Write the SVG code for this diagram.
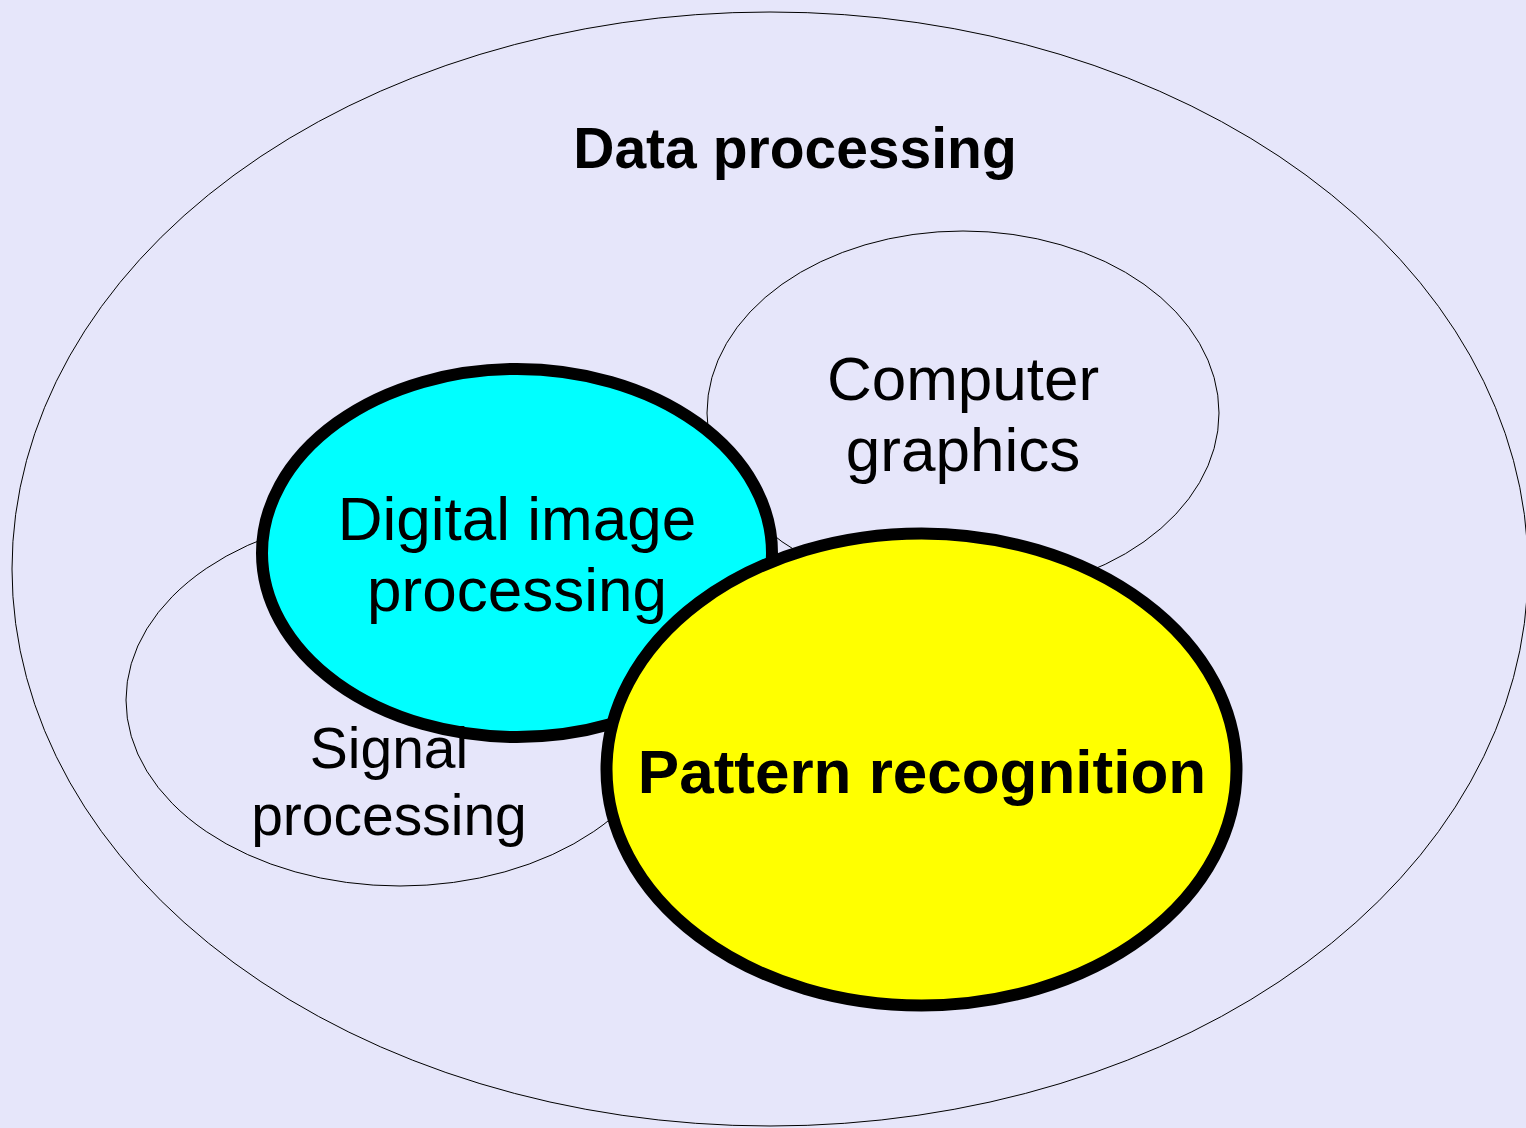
<svg xmlns="http://www.w3.org/2000/svg" width="1526" height="1128" viewBox="0 0 1526 1128">
<style>
.thin{fill:#E6E6FA;stroke:#000;stroke-width:1}
.thick{stroke:#000;stroke-width:12}
.lbl{font-family:"Liberation Sans",Arial,sans-serif;font-size:62px;fill:#000;text-anchor:middle}
.b{font-weight:bold}
.sm{font-size:57px}
</style>
<rect width="1526" height="1128" fill="#E6E6FA"/>
<g id="data-processing">
<ellipse class="thin" cx="770" cy="569" rx="758" ry="557"/>
<text class="lbl b sm" x="795" y="168">Data processing</text>
</g>
<g id="computer-graphics">
<ellipse class="thin" cx="963" cy="413" rx="256" ry="182"/>
<text class="lbl" x="963" y="400">Computer</text>
<text class="lbl" x="963" y="471">graphics</text>
</g>
<g id="signal-processing">
<ellipse class="thin" cx="400" cy="700" rx="274" ry="186"/>
</g>
<g id="digital-image-processing">
<ellipse class="thick" fill="#00FFFF" cx="517" cy="553" rx="255" ry="184"/>
<text class="lbl" x="517" y="540">Digital image</text>
<text class="lbl" x="517" y="611">processing</text>
</g>
<g id="signal-processing-label">
<text class="lbl sm" x="389" y="768">Signal</text>
<text class="lbl sm" x="389" y="835">processing</text>
</g>
<g id="pattern-recognition">
<ellipse class="thick" fill="#FFFF00" cx="921.5" cy="769.5" rx="315" ry="236"/>
<text class="lbl b" x="922" y="793">Pattern recognition</text>
</g>
<g id="connectors"/>
</svg>
